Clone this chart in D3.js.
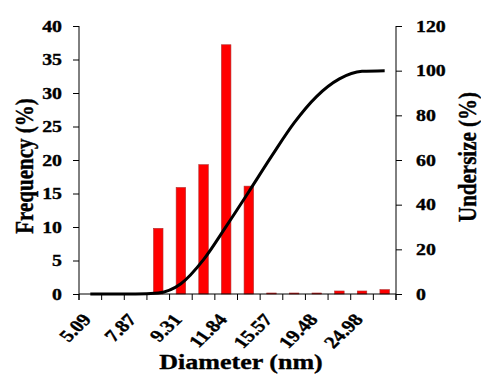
<!DOCTYPE html>
<html>
<head>
<meta charset="utf-8">
<script src="https://cdn.jsdelivr.net/npm/d3@7"></script>
<style>
  body { margin: 0; background: #fff; }
  text { font-family: "Liberation Serif", "Times New Roman", serif; font-weight: bold; fill: #000;
         stroke: #000; stroke-width: 0.35px; }
</style>
</head>
<body>
<div id="chart"></div>
<script>
// categories (only every second label is shown on the axis)
const diameters = ["5.09", "6.31", "7.87", "8.55", "9.31", "10.49", "11.84",
                   "13.58", "15.57", "17.41", "19.48", "22.06", "24.98", "28.29"];
// frequency (%) per class
const frequency = [0, 0, 0, 9.8, 15.9, 19.3, 37.2, 16.1, 0.15, 0.15, 0.15, 0.45, 0.45, 0.65];
// cumulative undersize (%)
const undersize = [0, 0, 0, 0.5, 4.6, 15.4, 30.3, 45.8, 61.6, 76.6, 88.5, 96.3, 99.7, 100];
const freqTicks = [0, 5, 10, 15, 20, 25, 30, 35, 40];
const underTicks = [0, 20, 40, 60, 80, 100, 120];

const W = 481, H = 374;
const margin = {top: 26, right: 85, bottom: 80, left: 79};
const width = W - margin.left - margin.right,
      height = H - margin.top - margin.bottom;
const sx = 1.24; // text in the picture is a bit wider than normal

const svg = d3.select("#chart")
  .append("svg")
  .attr("width", W)
  .attr("height", H);

const g = svg.append("g")
  .attr("transform", `translate(${margin.left},${margin.top})`);

// scales
const x = d3.scaleBand()
  .domain(diameters)
  .range([0, width])
  .paddingInner(0.58)
  .paddingOuter(0.29);
const xStep = d3.scaleBand().domain(diameters).range([0, width]);

const yL = d3.scaleLinear().domain([0, 40]).range([height, 0]);
const yR = d3.scaleLinear().domain([0, 120]).range([height, 0]);

// text helper with the horizontal stretch
function label(parent, px, py, str, size, anchor, angle, dy) {
  return parent.append("text")
    .attr("transform", `translate(${px},${py}) scale(${sx},1) rotate(${angle || 0})`)
    .attr("text-anchor", anchor)
    .attr("dy", dy === undefined ? "0.35em" : dy)
    .style("font-size", size + "px")
    .text(str);
}

// bars
g.selectAll(".bar")
  .data(frequency)
  .enter()
  .append("rect")
  .attr("class", "bar")
  .attr("x", (d, i) => x(diameters[i]))
  .attr("width", x.bandwidth())
  .attr("y", d => yL(d))
  .attr("height", d => height - yL(d))
  .style("fill", "#ff0000")
  .attr("stroke", "#b03030")
  .attr("stroke-width", 0.6);

// left axis
g.append("g")
  .call(d3.axisLeft(yL).tickValues(freqTicks).tickSize(6).tickFormat(""))
  .call(a => a.select(".domain").remove())
  .call(a => a.selectAll("line").attr("stroke", "#000"));
g.append("line")
  .attr("x1", 0).attr("x2", 0)
  .attr("y1", 0).attr("y2", height + 6)
  .attr("stroke", "#000");
freqTicks.forEach(t => label(g, -17, yL(t), t, 16, "end"));

// right axis
const gr = g.append("g").attr("transform", `translate(${width},0)`);
gr.call(d3.axisRight(yR).tickValues(underTicks).tickSize(6).tickFormat(""))
  .call(a => a.select(".domain").remove())
  .call(a => a.selectAll("line").attr("stroke", "#000"));
gr.append("line")
  .attr("x1", 0).attr("x2", 0)
  .attr("y1", 0).attr("y2", height + 6)
  .attr("stroke", "#000");
underTicks.forEach(t => label(gr, 20, yR(t), t, 16, "start"));

// bottom axis: ticks between categories
g.append("line")
  .attr("x1", 0).attr("x2", width)
  .attr("y1", height).attr("y2", height)
  .attr("stroke", "#000");
const bounds = diameters.map(d => xStep(d)).concat([width]);
g.selectAll(".xtick")
  .data(bounds)
  .enter()
  .append("line")
  .attr("x1", d => d).attr("x2", d => d)
  .attr("y1", height).attr("y2", height + 6)
  .attr("stroke", "#000");
diameters.forEach((d, i) => {
  if (i % 2 === 0) {
    const cx = xStep(d) + xStep.bandwidth() / 2;
    label(g, cx + 2, height + 26, d, 17, "end", -50, 0);
  }
});

// undersize line
const line = d3.line()
  .x((d, i) => xStep(diameters[i]) + xStep.bandwidth() / 2)
  .y(d => yR(d))
  .curve(d3.curveMonotoneX);
g.append("path")
  .datum(undersize)
  .attr("d", line)
  .attr("fill", "none")
  .attr("stroke", "#000")
  .attr("stroke-width", 3)
  .attr("stroke-linejoin", "round");

// axis titles
label(svg, 241, 362, "Diameter (nm)", 21, "middle");
label(svg, 24, 166, "Frequency (%)", 21, "middle", -90);
label(svg, 467, 157, "Undersize (%)", 21, "middle", -90);
</script>
</body>
</html>
